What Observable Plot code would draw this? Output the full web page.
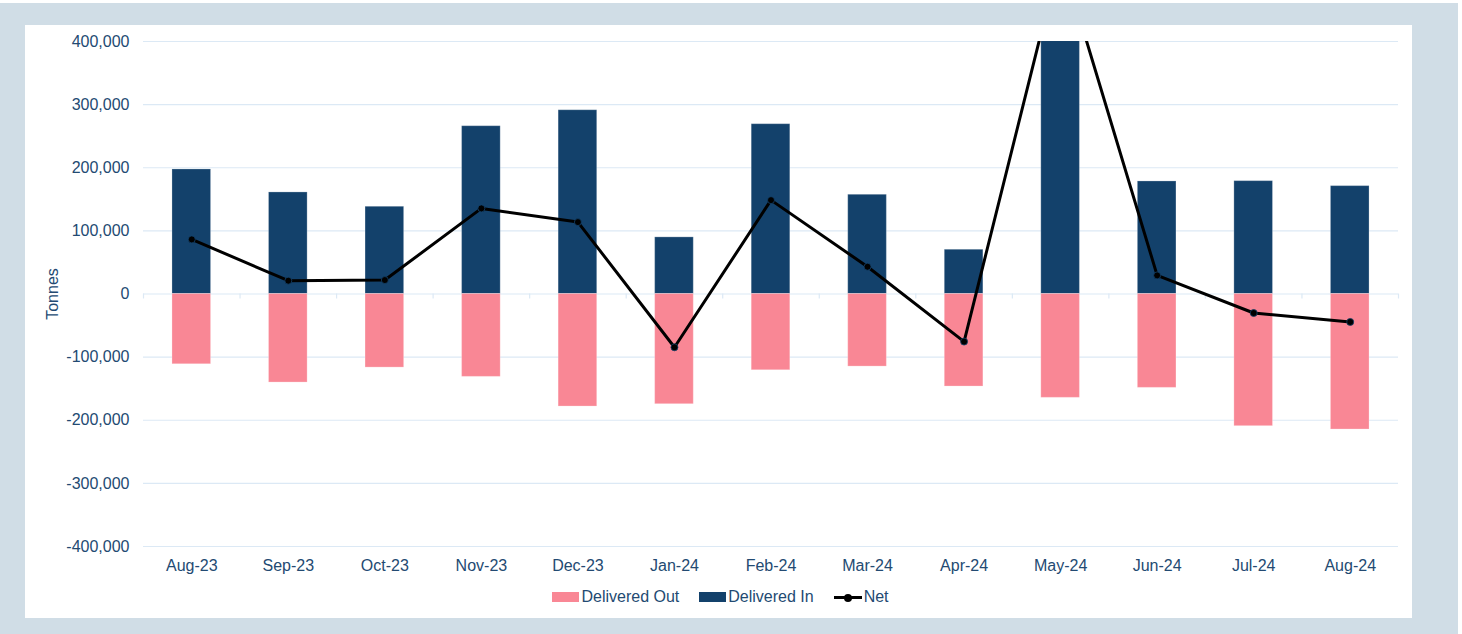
<!DOCTYPE html>
<html>
<head>
<meta charset="utf-8">
<script src="https://cdn.jsdelivr.net/npm/d3@7"></script>
<script src="https://cdn.jsdelivr.net/npm/@observablehq/plot@0.6"></script>
<style>
  html, body { margin: 0; padding: 0; background: #ffffff; }
  body { font-family: "Liberation Sans", Arial, sans-serif; }
  #bg { position: absolute; left: 0; top: 3px; width: 1458px; height: 631px; background: #d0dde6; }
  #panel { position: absolute; left: 25px; top: 22px; width: 1387px; height: 593px; background: #ffffff; }
  #chart { position: absolute; left: 0; top: 0; }
  #legend { position: absolute; left: 0; top: 562px; width: 1391px; height: 20px; display: flex; justify-content: center; align-items: center; font-size: 16px; color: #234a72; line-height: 20px; }
  .item { display: flex; align-items: center; margin: 0 10px; }
  .sw { width: 27px; height: 10px; margin-right: 2px; }
  .lsw { width: 28px; height: 10px; margin-right: 2px; position: relative; }
  .lsw::before { content: ""; position: absolute; left: 0; right: 0; top: 4px; height: 3px; background: #000; }
  .lsw::after { content: ""; position: absolute; left: 10px; top: 1.5px; width: 8px; height: 8px; border-radius: 50%; background: #000; }
</style>
</head>
<body>
<div id="bg">
  <div id="panel">
    <div id="chart"></div>
    <div id="legend"></div>
  </div>
</div>
<script>
// ---- data ----
const months = ["Aug-23","Sep-23","Oct-23","Nov-23","Dec-23","Jan-24","Feb-24","Mar-24","Apr-24","May-24","Jun-24","Jul-24","Aug-24"];
const deliveredIn  = [197300, 160900, 138200, 265800, 291100, 89700, 269000, 157200, 70100, 701000, 178300, 178800, 170900];
const deliveredOut = [-111300, -140300, -116600, -131300, -178300, -174600, -120800, -115000, -146600, -164500, -148700, -209400, -214700];
const net          = [86500, 21100, 22100, 135600, 113900, -84400, 148700, 43200, -75400, 537000, 29500, -30100, -44300];
const yTicks = [-400000, -300000, -200000, -100000, 0, 100000, 200000, 300000, 400000];
const seriesNames = ["Delivered Out", "Delivered In", "Net"];
const seriesColors = ["#f98795", "#13416b", "#000000"];

// ---- layout ----
const W = 1387, H = 556;
const mL = 118, mR = 14, mT = 16, mB = 35;
const step = (W - mL - mR) / months.length;
const textColor = "#234a72";
const gridColor = "#dce9f5";
const fmt = d3.formatLocale({decimal: ".", thousands: ",", grouping: [3], currency: ["", ""], minus: "-"}).format(",");

const rows = months.map((m, i) => ({month: m, inn: deliveredIn[i], out: deliveredOut[i], net: net[i]}));

const chart = Plot.plot({
  width: W,
  height: H,
  marginLeft: mL,
  marginRight: mR,
  marginTop: mT,
  marginBottom: mB,
  style: {fontFamily: "'Liberation Sans', Arial, sans-serif", fontSize: "16px", color: textColor, background: "transparent"},
  x: {type: "band", domain: months, paddingInner: 0.6, paddingOuter: 0.3, round: false},
  y: {domain: [-400000, 400000]},
  marks: [
    Plot.gridY(yTicks, {stroke: gridColor, strokeOpacity: 1, strokeWidth: 1.2}),
    Plot.ruleX(months, {x: d => d, y1: 0, y2: 0, insetBottom: -5, dx: -step / 2, stroke: gridColor, strokeWidth: 1.2}),
    Plot.ruleX(months.slice(-1), {x: d => d, y1: 0, y2: 0, insetBottom: -5, dx: step / 2, stroke: gridColor, strokeWidth: 1.2}),
    Plot.barY(rows, {x: "month", y: "inn", fill: seriesColors[1], clip: true, stroke: "#ffffff", strokeOpacity: 0.25, strokeWidth: 1}),
    Plot.barY(rows, {x: "month", y: "out", fill: seriesColors[0], clip: true, stroke: "#ffffff", strokeOpacity: 0.25, strokeWidth: 1}),
    Plot.line(rows, {x: "month", y: "net", stroke: seriesColors[2], strokeWidth: 3, clip: true}),
    Plot.dot(rows, {x: "month", y: "net", r: 3.5, fill: "#000", stroke: "#13416b", strokeWidth: 0.8, clip: true}),
    Plot.axisY(yTicks, {tickSize: 0, tickPadding: 14, tickFormat: fmt, fill: textColor, fontSize: 16,
      label: "Tonnes", labelAnchor: "center", labelOffset: 97, labelArrow: "none"}),
    Plot.axisX({tickSize: 0, tickPadding: 13, fill: textColor, fontSize: 16, label: null})
  ]
});
document.getElementById("chart").appendChild(chart);

// ---- legend ----
const legend = document.getElementById("legend");
seriesNames.forEach((name, i) => {
  const item = document.createElement("div");
  item.className = "item";
  const sw = document.createElement("span");
  if (i < 2) { sw.className = "sw"; sw.style.background = seriesColors[i]; }
  else { sw.className = "lsw"; }
  const t = document.createElement("span");
  t.textContent = name;
  item.appendChild(sw);
  item.appendChild(t);
  legend.appendChild(item);
});
</script>
</body>
</html>
